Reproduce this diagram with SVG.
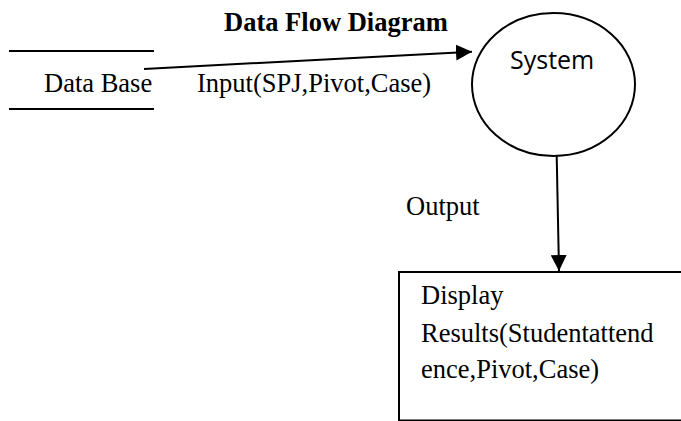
<svg xmlns="http://www.w3.org/2000/svg" width="681" height="421" viewBox="0 0 681 421">
<style>
.t{font-family:"Liberation Serif","Times New Roman",serif;font-size:26.5px;fill:#000}
.b{font-weight:bold}
.s{font-family:"Open Sans","Noto Sans",sans-serif;font-size:25px;fill:#000}
.ln{stroke:#000;stroke-width:2;fill:none}
</style>
<defs>
<marker id="ah2" viewBox="0 0 16 16" refX="16" refY="8" markerWidth="16" markerHeight="16" markerUnits="userSpaceOnUse" orient="auto">
<path d="M0,0 L16,8 L0,16 z" fill="#000"/>
</marker>
</defs>
<rect width="681" height="421" fill="#fff"/>
<text class="t b" x="224" y="31">Data Flow Diagram</text>
<g id="database">
<line class="ln" x1="9" y1="51" x2="154" y2="51"/>
<line class="ln" x1="9" y1="109" x2="154" y2="109"/>
<text class="t" x="44" y="92">Data Base</text>
</g>
<g id="system">
<ellipse class="ln" cx="553.5" cy="84.5" rx="81.5" ry="71.5"/>
<text class="s" x="510" y="69">System</text>
</g>
<g id="display">
<rect class="ln" x="399" y="272" width="400" height="148.5"/>
<text class="t" x="421" y="304">Display</text>
<text class="t" x="421" y="342">Results(Studentattend</text>
<text class="t" x="421" y="378">ence,Pivot,Case)</text>
</g>
<g id="connectors">
<line class="ln" x1="144" y1="69" x2="472" y2="51.7" marker-end="url(#ah2)"/>
<text class="t" x="197" y="92">Input(SPJ,Pivot,Case)</text>
<line class="ln" x1="556.7" y1="156" x2="559" y2="271" marker-end="url(#ah2)"/>
<text class="t" x="406" y="215">Output</text>
</g>
</svg>
